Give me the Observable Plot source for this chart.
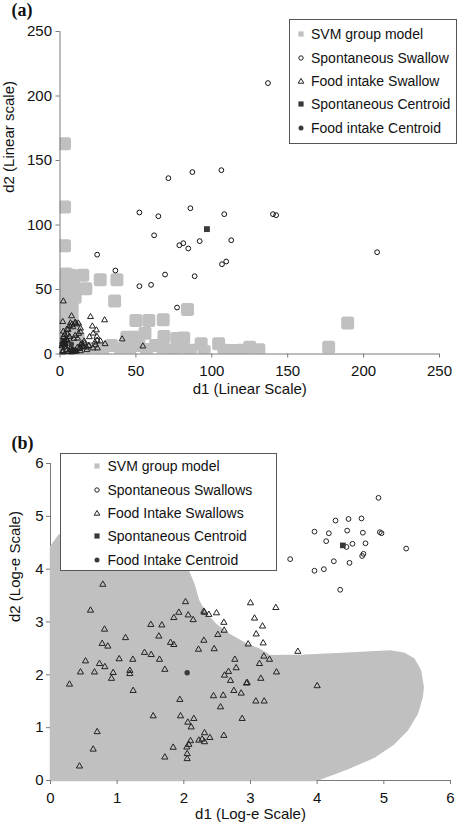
<!DOCTYPE html>
<html><head><meta charset="utf-8">
<script src="https://cdn.jsdelivr.net/npm/d3@7"></script>
<script src="https://cdn.jsdelivr.net/npm/@observablehq/plot@0.6"></script>
<style>
html,body{margin:0;padding:0;background:#fff;}
#root{position:relative;width:458px;height:826px;overflow:hidden;font-family:"Liberation Sans",Arial,sans-serif;color:#111;}
.panel{position:absolute;left:0;}
.plabel{position:absolute;font-family:"Liberation Serif","Times New Roman",serif;font-weight:bold;font-size:18px;line-height:20px;color:#111;}
.legend{position:absolute;background:#fff;border:1px solid #555;box-sizing:border-box;z-index:5;}
.row{position:absolute;font-size:14px;line-height:14px;white-space:nowrap;color:#111;}
.sym{position:absolute;width:12px;height:12px;overflow:visible;}
</style></head>
<body><div id="root"></div>
<script>
// ---------- DATA ----------
const panelLabels = ["(a)", "(b)"];
const ticksA = [0, 50, 100, 150, 200, 250];
const ticksB = [0, 1, 2, 3, 4, 5, 6];
const xLabelA = "d1 (Linear Scale)";
const yLabelA = "d2 (Linear scale)";
const xLabelB = "d1 (Log-e Scale)";
const yLabelB = "d2 (Log-e Scale)";
const legendA = ["SVM group model", "Spontaneous Swallow", "Food intake Swallow", "Spontaneous Centroid", "Food intake Centroid"];
const legendB = ["SVM group model", "Spontaneous Swallows", "Food Intake Swallows", "Spontaneous Centroid", "Food Intake Centroid"];

// Panel (a): SVM group model markers [d1, d2]
const svmA = [
  [3,163],[3,114],[3,84],
  [4,62],[3,54],[3,46],[3,38],[3,30],[3,22],[3,14],[3,6],
  [7,61],[15,61],[9,52],[17,50.5],[10,44],[8,36],[8,28],[10,20],[12,12],[9,5],
  [26.5,57.5],[37.5,57.5],[36,41],
  [50,26],[58.5,26],[68,26.5],[84,34.5],
  [44,13],[48.5,13],[56,16],[68.5,13.5],[77,12],[81.5,12.5],
  [16,4],[22,4],[28,4],[34,6.6],[40,4],[46,5],[52,6.6],[57,3.5],[63,6.6],[68,4],[74,3],[80,4],[86,3],
  [93,8],[95,2],[104.5,8],[108,3],[114,2.7],[120,3],[125,5.3],[131,3.3],
  [177,5.3],[189.5,24]
];
// Panel (a): spontaneous swallows
const spontA = [
  [24.5,77],[36.5,64.7],[52.3,109.7],[64.8,106.8],[62,92],[52.3,52.6],[60,53.6],[69.2,61.6],
  [77.1,36],[85.9,113],[78.6,84.3],[81.2,85.9],[84.5,81.8],[92,87.5],[88.7,60.3],[108.2,108.4],
  [112.8,88.2],[106.7,69.6],[109.5,71.7],[140.3,108.4],[142.4,107.6],[208.9,78.9],[71.4,136.3],
  [87.2,141],[106.3,142.5],[137,210]
];
// Panel (a): food intake swallows
const foodA = [
  [1.8,25.0],[2.2,17.5],[2.2,13.3],[2.4,12.7],[1.7,9.6],[1.6,7.8],[1.9,7.8],[2.1,9.1],[2.3,8.6],[2.6,7.7],
  [2.5,6.9],[1.3,6.2],[2.8,10.0],[3.1,14.9],[3.4,9.9],[3.3,8.0],[3.3,7.5],[3.5,5.5],[2.0,2.5],[1.9,1.8],
  [1.5,1.3],[4.5,19.1],[5.3,18.9],[5.1,15.3],[4.1,11.2],[4.5,10.8],[5.1,9.9],[5.6,8.2],[6.0,13.6],[6.4,13.1],
  [6.4,21.8],[6.9,24.0],[7.6,29.4],[7.9,22.9],[8.5,20.9],[10.0,24.5],[10.1,24.0],[10.8,23.1],[12.1,23.8],[13.5,19.9],
  [13.5,17.1],[12.3,15.8],[11.6,12.1],[10.0,14.2],[9.2,11.9],[15.9,9.9],[16.2,8.4],[14.4,7.8],[13.6,7.3],[14.9,6.6],
  [15.6,5.5],[13.3,5.0],[11.5,5.0],[12.8,4.0],[7.0,4.6],[7.0,3.4],[4.7,3.4],[8.6,3.2],[7.8,3.0],[8.2,2.7],
  [6.3,1.9],[5.6,1.6],[7.7,1.9],[8.0,2.0],[8.2,2.1],[7.8,1.7],[7.8,1.5],[9.3,2.1],[9.7,2.2],[10.1,2.5],
  [10.1,2.1],[10.9,2.2],[13.5,2.3],[20.1,28.8],[29.4,26.3],[21.3,21.5],[24.0,18.5],[21.9,16.0],[19.4,13.2],[24.3,13.5],
  [40.9,11.5],[24.5,10.5],[26.7,9.9],[23.0,9.1],[29.7,7.8],[23.5,6.9],[18.9,6.3],[19.1,6.4],[54.6,6.0],[17.5,5.2],
  [21.8,4.5],[24.7,4.5],[17.7,3.2],[2.2,40.9]
];
const spontCentroidA = [[96.8,96.8]];
const foodCentroidA = [[7.6,7.7]];

// Panel (b): SVM group model region outline [d1, d2]
const svmB = [
  [0,0],[0,4.42],[0.125,4.64],[0.4,4.72],[1.0,4.72],[1.6,4.5],[1.95,4.2],[2.07,3.96],[2.15,3.72],
  [2.22,3.41],[2.33,3.16],[2.475,2.96],[2.675,2.77],[2.925,2.59],[3.125,2.49],[3.30,2.36],[3.80,2.37],
  [4.30,2.40],[4.80,2.43],[5.10,2.45],[5.30,2.41],[5.45,2.30],[5.55,2.08],[5.59,1.77],[5.575,1.58],
  [5.50,1.26],[5.35,0.95],[5.15,0.695],[4.85,0.44],[4.45,0.22],[4.05,0.03],[3.95,0],[0,0]
];
// Panel (b): spontaneous swallows
const spontB = [
  [4.92,5.35],[4.275,4.92],[4.47,4.95],[4.665,4.96],[3.96,4.71],[4.175,4.68],[4.45,4.73],[4.685,4.69],
  [4.94,4.70],[4.965,4.68],[4.135,4.53],[4.53,4.48],[4.725,4.49],[4.44,4.42],[5.335,4.39],[4.695,4.29],
  [4.675,4.25],[3.595,4.19],[4.25,4.15],[4.485,4.12],[3.96,3.97],[4.10,4.00],[4.345,3.61],[3.2,4.34]
];
// Panel (b): food intake swallows
const foodB = [
  [0.60,3.22],[0.81,2.86],[0.775,2.59],[0.86,2.54],[0.525,2.26],[0.45,2.05],[0.66,2.05],[0.735,2.21],[0.815,2.15],[0.94,2.04],
  [0.915,1.93],[0.285,1.82],[1.03,2.30],[1.125,2.70],[1.235,2.29],[1.19,2.08],[1.19,2.02],[1.24,1.70],[0.70,0.92],[0.64,0.59],
  [0.435,0.27],[1.505,2.95],[1.67,2.94],[1.625,2.73],[1.41,2.42],[1.51,2.38],[1.635,2.29],[1.715,2.10],[1.80,2.61],[1.85,2.57],
  [1.85,3.08],[1.925,3.18],[2.025,3.38],[2.065,3.13],[2.14,3.04],[2.30,3.20],[2.31,3.18],[2.375,3.14],[2.49,3.17],[2.60,2.99],
  [2.605,2.84],[2.51,2.76],[2.455,2.49],[2.30,2.65],[2.22,2.48],[2.765,2.29],[2.785,2.13],[2.67,2.06],[2.61,1.99],[2.70,1.89],
  [2.75,1.70],[2.59,1.61],[2.445,1.60],[2.55,1.39],[1.94,1.53],[1.95,1.22],[1.54,1.22],[2.15,1.17],[2.06,1.10],[2.11,1.01],
  [1.84,0.625],[1.715,0.44],[2.045,0.63],[2.075,0.68],[2.10,0.75],[2.05,0.505],[2.05,0.41],[2.225,0.76],[2.275,0.78],[2.31,0.90],
  [2.31,0.73],[2.39,0.81],[2.60,0.85],[3.00,3.36],[3.38,3.27],[3.06,3.07],[3.18,2.92],[3.085,2.77],[2.965,2.58],[3.19,2.60],
  [3.71,2.44],[3.20,2.35],[3.285,2.29],[3.135,2.21],[3.39,2.05],[3.155,1.93],[2.94,1.84],[2.95,1.85],[4.00,1.79],[2.86,1.65],
  [3.08,1.50],[3.205,1.50],[2.875,1.17],[0.785,3.71]
];
const spontCentroidB = [[4.385,4.45]];
const foodCentroidB = [[2.05,2.04]];

// ---------- DRAW ----------
const FONT = '"Liberation Sans", Arial, sans-serif';
const GRAY = "#c0c0c0";
const DARK = "#3a3a3a";
const AXIS = "#7a7a7a";
const pts = a => a.map(([d1, d2]) => ({d1, d2}));
const root = document.getElementById("root");
const fmt = d3.format("d");

function axes(ticks, xPad, yPad) {
  return [
    Plot.axisX({ticks, tickFormat: fmt, tickSize: 4, tickPadding: xPad, fontSize: 15, stroke: AXIS, fill: "#111", label: null}),
    Plot.axisY({ticks, tickFormat: fmt, tickSize: 4, tickPadding: yPad, fontSize: 15, stroke: AXIS, fill: "#111", label: null})
  ];
}

const plotA = Plot.plot({
  width: 458, height: 405,
  marginTop: 31, marginBottom: 51.5, marginLeft: 59.5, marginRight: 19,
  x: {domain: [0, 250]}, y: {domain: [0, 250]},
  style: {fontFamily: FONT, fontSize: "15px", background: "transparent", color: "#111", overflow: "visible"},
  marks: [
    Plot.dot(pts(svmA), {x: "d1", y: "d2", symbol: "square", r: 4.5, fill: GRAY, stroke: GRAY, strokeWidth: 5, strokeLinejoin: "round", clip: true}),
    Plot.ruleY([0], {stroke: AXIS}),
    Plot.ruleX([0], {stroke: AXIS}),
    Plot.dot(pts(foodA), {x: "d1", y: "d2", symbol: "triangle", r: 2.2, stroke: "#222", strokeWidth: 1, fill: "none"}),
    Plot.dot(pts(spontA), {x: "d1", y: "d2", r: 2.4, stroke: "#111", strokeWidth: 1, fill: "none"}),
    Plot.dot(pts(spontCentroidA), {x: "d1", y: "d2", symbol: "square", r: 3.3, fill: DARK}),
    Plot.dot(pts(foodCentroidA), {x: "d1", y: "d2", r: 2.6, fill: DARK}),
    ...axes(ticksA, 7, 4),
    Plot.text([xLabelA], {text: d => d, frameAnchor: "bottom", dy: 39.5, fontSize: 15, fill: "#111"}),
    Plot.text([yLabelA], {text: d => d, frameAnchor: "left", rotate: -90, dx: -50.5, fontSize: 15, fill: "#111"})
  ]
});

const plotB = Plot.plot({
  width: 458, height: 421,
  marginTop: 58, marginBottom: 46, marginLeft: 50, marginRight: 8,
  x: {domain: [0, 6]}, y: {domain: [0, 6]},
  style: {fontFamily: FONT, fontSize: "15px", background: "transparent", color: "#111", overflow: "visible"},
  marks: [
    Plot.ruleY([0], {stroke: AXIS}),
    Plot.ruleX([0], {stroke: AXIS}),
    Plot.line(pts(svmB), {x: "d1", y: "d2", fill: GRAY, stroke: GRAY, strokeWidth: 1.5}),
    ...axes(ticksB, 7.5, 3),
    Plot.dot(pts(foodB), {x: "d1", y: "d2", symbol: "triangle", r: 2.3, stroke: "#222", strokeWidth: 1, fill: "none"}),
    Plot.dot(pts(spontB), {x: "d1", y: "d2", r: 2.4, stroke: "#222", strokeWidth: 1, fill: "none"}),
    Plot.dot(pts(spontCentroidB), {x: "d1", y: "d2", symbol: "square", r: 3.2, fill: DARK}),
    Plot.dot(pts(foodCentroidB), {x: "d1", y: "d2", r: 2.7, fill: DARK}),
    Plot.text([xLabelB], {text: d => d, frameAnchor: "bottom", dy: 38, fontSize: 15, fill: "#111"}),
    Plot.text([yLabelB], {text: d => d, frameAnchor: "left", rotate: -90, dx: -35.5, fontSize: 15, fill: "#111"})
  ]
});

function place(el, top) {
  const w = document.createElement("div");
  w.className = "panel";
  w.style.top = top + "px";
  w.appendChild(el);
  root.appendChild(w);
}
place(plotA, 0);
place(plotB, 405);

// panel labels
[[panelLabels[0], 11.5, 0], [panelLabels[1], 11.5, 433]].forEach(([t, l, tp]) => {
  const s = document.createElement("div");
  s.className = "plabel";
  s.style.left = l + "px"; s.style.top = tp + "px";
  s.textContent = t;
  root.appendChild(s);
});

// legends
const NS = "http://www.w3.org/2000/svg";
function symbolSvg(kind) {
  const svg = document.createElementNS(NS, "svg");
  svg.setAttribute("width", 12); svg.setAttribute("height", 12);
  svg.setAttribute("viewBox", "-6 -6 12 12");
  svg.setAttribute("class", "sym");
  let e;
  if (kind === 0) { e = document.createElementNS(NS, "rect"); e.setAttribute("x", -2.6); e.setAttribute("y", -2.6); e.setAttribute("width", 5.2); e.setAttribute("height", 5.2); e.setAttribute("fill", GRAY); }
  if (kind === 1) { e = document.createElementNS(NS, "circle"); e.setAttribute("r", 2.2); e.setAttribute("fill", "none"); e.setAttribute("stroke", "#222"); }
  if (kind === 2) { e = document.createElementNS(NS, "path"); e.setAttribute("d", "M0,-2.6L2.8,2.2L-2.8,2.2Z"); e.setAttribute("fill", "none"); e.setAttribute("stroke", "#222"); }
  if (kind === 3) { e = document.createElementNS(NS, "rect"); e.setAttribute("x", -2.6); e.setAttribute("y", -2.6); e.setAttribute("width", 5.2); e.setAttribute("height", 5.2); e.setAttribute("fill", DARK); }
  if (kind === 4) { e = document.createElementNS(NS, "circle"); e.setAttribute("r", 2.5); e.setAttribute("fill", DARK); }
  svg.appendChild(e);
  return svg;
}
function legend(labels, box, rows, symX, textX) {
  const d = document.createElement("div");
  d.className = "legend";
  Object.assign(d.style, {left: box[0] + "px", top: box[1] + "px", width: box[2] + "px", height: box[3] + "px"});
  labels.forEach((lab, i) => {
    const s = symbolSvg(i);
    s.style.left = (symX - 6) + "px"; s.style.top = (rows[i] - 6) + "px";
    d.appendChild(s);
    const r = document.createElement("div");
    r.className = "row";
    r.style.left = textX + "px"; r.style.top = (rows[i] - 7) + "px";
    r.textContent = lab;
    d.appendChild(r);
  });
  root.appendChild(d);
}
legend(legendA, [289, 19, 168, 125], [14, 38, 61, 84, 108], 11, 21);
legend(legendB, [60, 453, 217, 118], [12.4, 35.7, 59, 82.3, 105.6], 36, 46.5);
</script></body></html>
